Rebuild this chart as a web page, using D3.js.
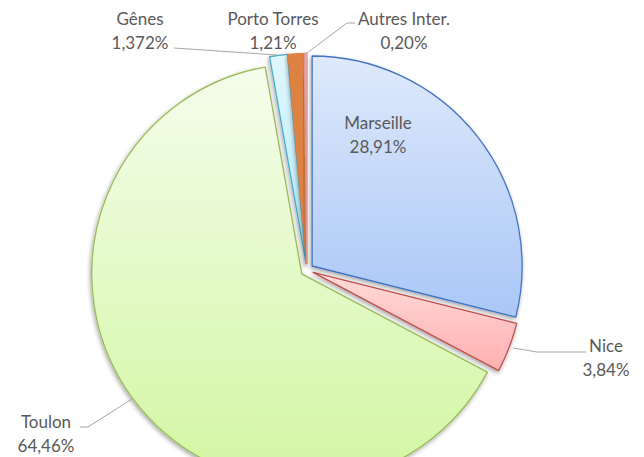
<!DOCTYPE html>
<html><head><meta charset="utf-8">
<script src="https://cdn.jsdelivr.net/npm/d3@7"></script>
<style>
html,body{margin:0;padding:0;background:#fff;overflow:hidden;}
text{font-family:Lato,"Open Sans",sans-serif;fill:#595959;}
</style></head>
<body>
<svg id="c" width="644" height="457"></svg>
<script>
const categories = ["Marseille","Nice","Toulon","Gênes","Porto Torres","Autres Inter."];
const values = [28.91, 3.84, 64.46, 1.372, 1.21, 0.20];
const valueLabels = ["28,91%","3,84%","64,46%","1,372%","1,21%","0,20%"];

const strokeColors = ["#4472c4","#c0504d","#9bbb59","#4bacc6","#dd8242","#d99694"];
const gradTop = ["#dfe9fb","#ffdada","#f4fdec","#dff7fd","#dd8242","#e6b0ad"];
const gradBottom = ["#a9c7f7","#ffb0b0","#d3f6a2","#b5eaf8","#dd8242","#e6b0ad"];

// label layout (anchor position, leader line points)
const labelLayout = {
  "Marseille": {x:378, y:129, line:null},
  "Nice": {x:606, y:352, line:[[586,352],[537,352],[513,348]]},
  "Toulon": {x:46, y:428, line:[[80,427],[88,427],[132,399]]},
  "Gênes": {x:140, y:25, line:[[174,48],[277,55]]},
  "Porto Torres": {x:273, y:25, line:null},
  "Autres Inter.": {x:404, y:25, line:[[355,23],[347,23],[307,53]]}
};

const svg = d3.select("#c");
const cx = 307, cy = 270, R = 210, explode = 6.5;

const defs = svg.append("defs");
const f = defs.append("filter").attr("id","sh").attr("x","-20%").attr("y","-20%").attr("width","140%").attr("height","140%");
f.append("feDropShadow").attr("dx",-1).attr("dy",2).attr("stdDeviation",2)
  .attr("flood-color","#000").attr("flood-opacity",0.35);

categories.forEach((c,i)=>{
  const g = defs.append("linearGradient").attr("id","g"+i)
    .attr("x1",0).attr("y1",0).attr("x2",0).attr("y2",1);
  g.append("stop").attr("offset","0%").attr("stop-color",gradTop[i]);
  g.append("stop").attr("offset","100%").attr("stop-color",gradBottom[i]);
});

const pie = d3.pie().sort(null).value(d=>d);
const arcs = pie(values);
const arc = d3.arc().innerRadius(0).outerRadius(R);

const root = svg.append("g").attr("transform",`translate(${cx},${cy})`);
root.selectAll("path.slice").data(arcs).join("path")
  .attr("class","slice")
  .attr("transform",d=>{
    const a=(d.startAngle+d.endAngle)/2;
    return `translate(${Math.sin(a)*explode},${-Math.cos(a)*explode})`;
  })
  .attr("d",arc)
  .attr("fill",(d,i)=>`url(#g${i})`)
  .attr("stroke",(d,i)=>strokeColors[i])
  .attr("stroke-width",1.3)
  .attr("stroke-linejoin","round")
  .attr("filter","url(#sh)");

const line = d3.line();
categories.forEach((c,i)=>{
  const L = labelLayout[c];
  if (L.line) svg.append("path").attr("d",line(L.line)).attr("fill","none")
     .attr("stroke","#a6a6a6").attr("stroke-width",1);
  const t = svg.append("text").attr("x",L.x).attr("y",L.y).attr("text-anchor","middle")
     .style("font-size","17px");
  t.append("tspan").attr("x",L.x).text(c);
  t.append("tspan").attr("x",L.x).attr("dy",23.5).text(valueLabels[i]);
});
</script>
</body></html>
